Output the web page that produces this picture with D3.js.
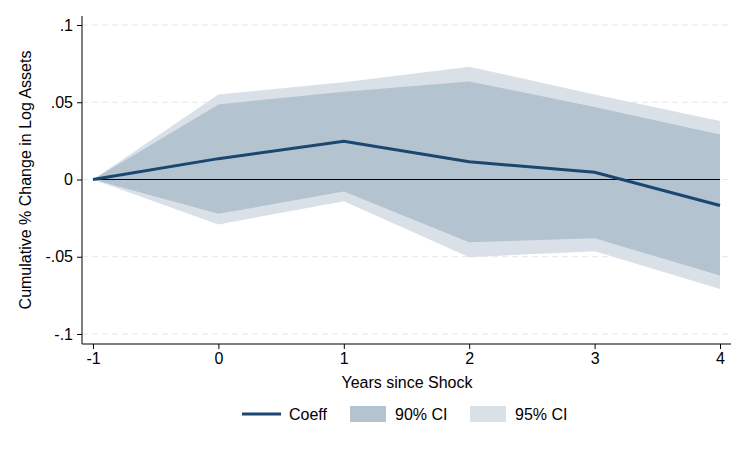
<!DOCTYPE html>
<html>
<head>
<meta charset="utf-8">
<script src="https://cdn.jsdelivr.net/npm/d3@7"></script>
<style>
  body { margin: 0; background: #fff; }
  text { font-family: "Liberation Sans", Arial, sans-serif; fill: #000; }
</style>
</head>
<body>
<div id="chart"></div>
<script>
const years = [-1, 0, 1, 2, 3, 4];
const coeff = [0, 0.0135, 0.0248, 0.0115, 0.0047, -0.0168];
const ci90Upper = [0, 0.0486, 0.0568, 0.0635, 0.047, 0.0291];
const ci90Lower = [0, -0.0222, -0.0078, -0.0406, -0.038, -0.0622];
const ci95Upper = [0, 0.055, 0.063, 0.073, 0.055, 0.0378];
const ci95Lower = [0, -0.0291, -0.014, -0.0503, -0.0464, -0.0708];
const yTicks = [-0.1, -0.05, 0, 0.05, 0.1];
const yTickLabels = ["-.1", "-.05", "0", ".05", ".1"];
const xTickLabels = ["-1", "0", "1", "2", "3", "4"];

const W = 746, H = 450;
const svg = d3.select("#chart").append("svg")
    .attr("width", W)
    .attr("height", H);

const x = d3.scaleLinear().domain([-1, 4]).range([93, 720]);
const y = d3.scaleLinear().domain([-0.1, 0.1]).range([334, 25]);

const plotLeft = 82, plotRight = 731, plotTop = 16, plotBottom = 344;

// gridlines
svg.append("g").selectAll("line")
    .data(yTicks)
    .join("line")
    .attr("x1", plotLeft).attr("x2", plotRight)
    .attr("y1", d => y(d)).attr("y2", d => y(d))
    .attr("stroke", "#e6e6e6")
    .attr("stroke-dasharray", "6,4");

const rows = years.map((yr, i) => ({
    yr, c: coeff[i], u90: ci90Upper[i], l90: ci90Lower[i], u95: ci95Upper[i], l95: ci95Lower[i]
}));

svg.append("path")
    .datum(rows)
    .attr("fill", "#d9e0e8")
    .attr("d", d3.area().x(d => x(d.yr)).y0(d => y(d.l95)).y1(d => y(d.u95)));

svg.append("path")
    .datum(rows)
    .attr("fill", "#b4c3d0")
    .attr("d", d3.area().x(d => x(d.yr)).y0(d => y(d.l90)).y1(d => y(d.u90)));

// zero line
svg.append("line")
    .attr("x1", x(-1)).attr("x2", x(4))
    .attr("y1", y(0)).attr("y2", y(0))
    .attr("stroke", "#000")
    .attr("stroke-width", 1.2);

svg.append("path")
    .datum(rows)
    .attr("fill", "none")
    .attr("stroke", "#1a476f")
    .attr("stroke-width", 3)
    .attr("d", d3.line().x(d => x(d.yr)).y(d => y(d.c)));

// axes
const yAxis = svg.append("g")
    .attr("transform", `translate(${plotLeft},0)`)
    .call(d3.axisLeft(y).tickValues(yTicks).tickFormat((d, i) => yTickLabels[i]).tickSize(5).tickPadding(4));
yAxis.select(".domain").attr("d", `M-0,${plotTop}V${plotBottom}`);

const xAxis = svg.append("g")
    .attr("transform", `translate(0,${plotBottom})`)
    .call(d3.axisBottom(x).tickValues(years).tickFormat((d, i) => xTickLabels[i]).tickSize(5).tickPadding(4));
xAxis.select(".domain").attr("d", `M${plotLeft},0H${plotRight}`);

svg.selectAll(".tick text").style("font-size", "16px").attr("font-family", null);
svg.selectAll(".domain, .tick line").attr("stroke", "#000");

svg.append("text")
    .attr("x", 407).attr("y", 388)
    .attr("text-anchor", "middle")
    .style("font-size", "16px")
    .text("Years since Shock");

svg.append("text")
    .attr("transform", `translate(31,180) rotate(-90)`)
    .attr("text-anchor", "middle")
    .style("font-size", "16px")
    .text("Cumulative % Change in Log Assets");

// legend
const lg = svg.append("g");
lg.append("line")
    .attr("x1", 242).attr("x2", 281).attr("y1", 414).attr("y2", 414)
    .attr("stroke", "#1a476f").attr("stroke-width", 3);
lg.append("text").attr("x", 289).attr("y", 420).style("font-size", "16px").text("Coeff");
lg.append("rect").attr("x", 350).attr("y", 406).attr("width", 36).attr("height", 16).attr("fill", "#b4c3d0");
lg.append("text").attr("x", 395).attr("y", 420).style("font-size", "16px").text("90% CI");
lg.append("rect").attr("x", 470).attr("y", 406).attr("width", 36).attr("height", 16).attr("fill", "#d9e0e8");
lg.append("text").attr("x", 515).attr("y", 420).style("font-size", "16px").text("95% CI");
</script>
</body>
</html>
